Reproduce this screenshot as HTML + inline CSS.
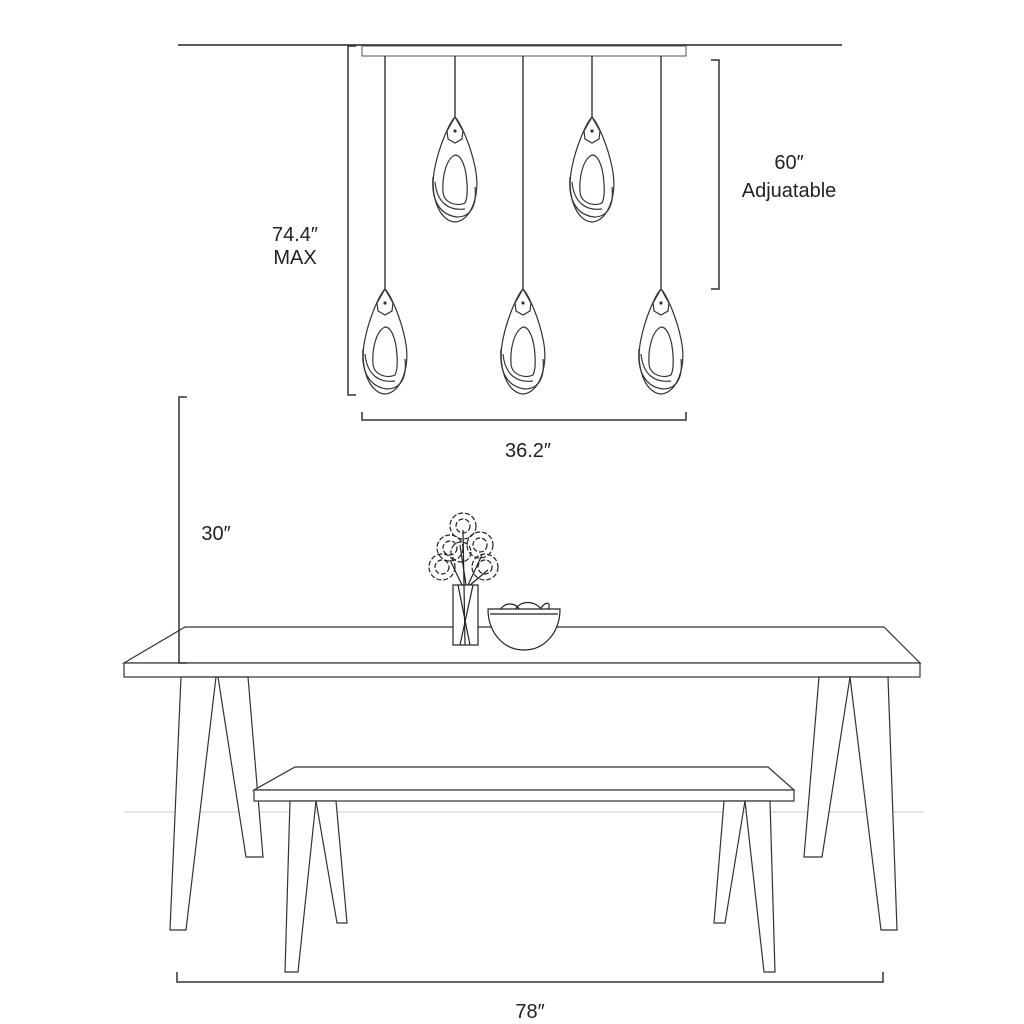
<!DOCTYPE html>
<html><head><meta charset="utf-8"><style>
html,body{margin:0;padding:0;background:#fff}
svg{display:block}
text{font-family:"Liberation Sans",sans-serif;font-size:20px;fill:#222;text-anchor:middle}
</style></head><body>
<svg width="1024" height="1024" viewBox="0 0 1024 1024" xmlns="http://www.w3.org/2000/svg">
<defs>
<g id="p" fill="none" stroke="#333" stroke-width="1.2">
<path d="M0,0 C-6,6 -16,30 -20,50 C-26,78 -16,104 0,105 C16,104 26,78 20,50 C16,30 6,6 0,0 Z"/>
<path d="M-22,60 C-24,85 -14,98 2,100 C16,100 22,88 20,70"/>
<path d="M-20,65 C-18,86 -6,94 10,92"/>
<path d="M0,38 C-9,42 -13,60 -12,75 C-11,86 2,90 10,86 C14,78 12,55 8,46 C6,41 3,38 0,38 Z"/>
<path d="M-8,14 L0,0 L8,14 L7,22 L0,26 L-7,22 Z"/>
<circle cx="0" cy="14" r="1" fill="#333"/>
</g>
</defs>
<line x1="178" y1="45" x2="842" y2="45" stroke="#222" stroke-width="1.5"/>
<rect x="362" y="46" width="324" height="10" fill="none" stroke="#555" stroke-width="1"/>
<g stroke="#222" stroke-width="1.3">
<line x1="385" y1="56" x2="385" y2="289"/>
<line x1="455" y1="56" x2="455" y2="117"/>
<line x1="523" y1="56" x2="523" y2="289"/>
<line x1="592" y1="56" x2="592" y2="117"/>
<line x1="661" y1="56" x2="661" y2="289"/>
</g>
<use href="#p" x="455" y="117"/>
<use href="#p" x="592" y="117"/>
<use href="#p" x="385" y="289"/>
<use href="#p" x="523" y="289"/>
<use href="#p" x="661" y="289"/>
<text x="295" y="241">74.4″</text>
<text x="295" y="264">MAX</text>
<text x="789" y="169">60″</text>
<text x="789" y="197">Adjuatable</text>
<text x="528" y="457">36.2″</text>
<text x="216" y="540">30″</text>
<text x="530" y="1018">78″</text>
<line x1="124" y1="812" x2="924" y2="812" stroke="#ddd" stroke-width="1.5"/>
<g fill="#fff" stroke="#333" stroke-width="1.2">
<path d="M124,663 L185,627 L884,627 L920,663 Z"/>
<rect x="124" y="663" width="796" height="14"/>
<path d="M181,677 L216,677 L186,930 L170,930 Z"/>
<path d="M218,677 L248,677 L263,857 L246,857 Z"/>
<path d="M850,677 L888,677 L897,930 L881,930 Z"/>
<path d="M819,677 L850,677 L822,857 L804,857 Z"/>
</g>
<g fill="#fff" stroke="#333" stroke-width="1.2">
<path d="M254,790 L295,767 L768,767 L794,790 Z"/>
<rect x="254" y="790" width="540" height="11"/>
<path d="M290,801 L316,801 L298,972 L285,972 Z"/>
<path d="M316,801 L336,801 L347,923 L337,923 Z"/>
<path d="M724,801 L745,801 L725,923 L714,923 Z"/>
<path d="M745,801 L770,801 L775,972 L764,972 Z"/>
</g>
<g fill="none" stroke="#333" stroke-width="1.5">
<path d="M356,46 H348 V395 H356"/>
<path d="M711,60 H719 V289 H711"/>
<path d="M362,412 V420 H686 V412"/>
<path d="M187,397 H179 V663 H187"/>
<path d="M177,972 V982 H883 V972"/>
</g>
<g fill="none" stroke="#222" stroke-width="1.2">
<rect x="453" y="585" width="25" height="60" fill="#fff"/>
<path d="M458,585 L470,645 M473,585 L460,645 M464,585 L465,645"/>
<path d="M462,585 L450,560 M466,585 L460,545 M468,585 L482,555 M470,585 L488,570 M464,585 L463,530"/>
<g stroke-dasharray="5 2">
<circle cx="463" cy="526" r="13"/><circle cx="463" cy="526" r="7"/>
<circle cx="450" cy="548" r="13"/><circle cx="450" cy="548" r="7"/>
<circle cx="480" cy="545" r="13"/><circle cx="480" cy="545" r="7"/>
<circle cx="442" cy="567" r="13"/><circle cx="442" cy="567" r="7"/>
<circle cx="485" cy="567" r="13"/><circle cx="485" cy="567" r="7"/>
<circle cx="461" cy="552" r="10"/>
</g>
<path d="M500,610 C505,602 515,602 520,610 M515,610 C520,600 535,600 542,610 M540,610 C545,600 552,602 548,610" />
<path d="M488,609 H560 C560,632 545,650 524,650 C503,650 488,632 488,609 Z" fill="#fff"/>
<path d="M490,614 H558"/>
</g>
</svg>
</body></html>
